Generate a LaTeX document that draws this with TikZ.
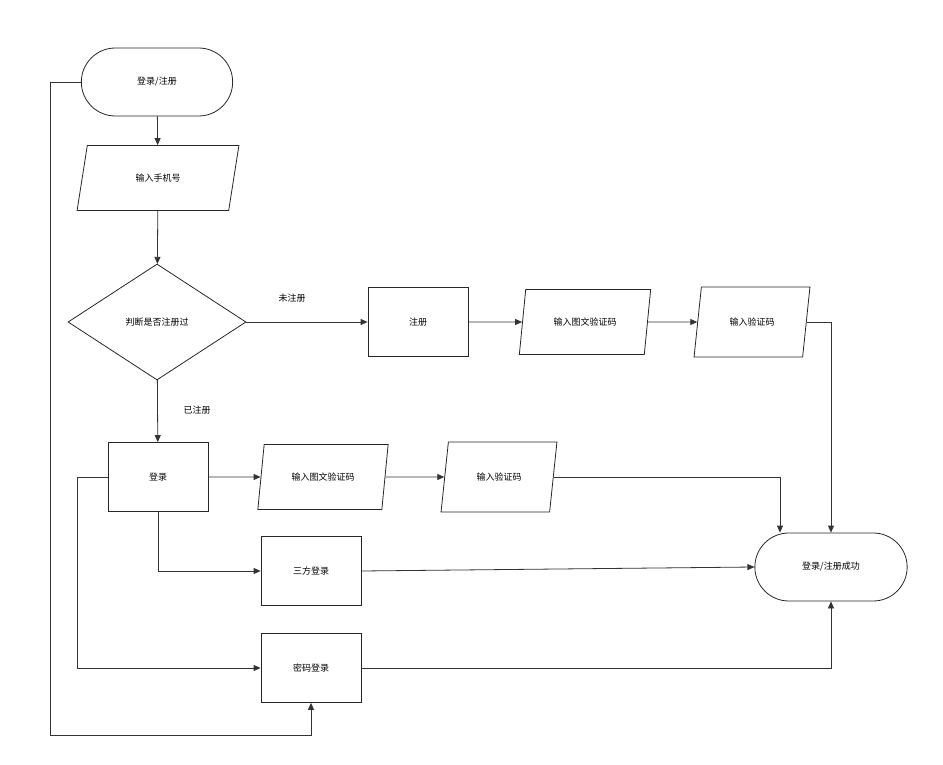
\documentclass[tikz,border=0pt]{standalone}
\usepackage{fontspec}
\setmainfont{Noto Sans CJK SC}
\usetikzlibrary{shapes.geometric,shapes.misc,arrows.meta}
\begin{document}
\begin{tikzpicture}[x=1pt,y=-1pt,
 every node/.style={font=\fontsize{9}{11}\selectfont},
 box/.style={draw=black!85,line width=0.8pt,minimum width=100pt,minimum height=69pt},
 term/.style={draw=black!85,line width=0.8pt,rounded rectangle,minimum width=158pt,minimum height=68pt},
 para/.style={draw=black!85,line width=0.8pt,trapezium,trapezium left angle=76,trapezium right angle=104,trapezium stretches=true,minimum height=65pt},
 ln/.style={draw=black!80,line width=0.8pt},
 ar/.style={ln,-{Triangle[length=7pt,width=6pt]}},
 lbl/.style={inner sep=0pt}]
\useasboundingbox (0,0) rectangle (943,765);
\node[term] (s) at (157,82) {登录/注册};
\node[para,minimum width=162pt] (p) at (158,178) {输入手机号};
\node[draw=black!85,line width=0.8pt,diamond,aspect=1.53,minimum width=178pt,minimum height=116pt,inner sep=0pt] (d) at (157,322) {判断是否注册过};
\node[box] (r) at (418,322) {注册};
\node[para,minimum width=132pt] (p1) at (585,322) {输入图文验证码};
\node[para,minimum width=116pt,minimum height=70pt] (p2) at (752,322) {输入验证码};
\node[box] (l) at (158,477) {登录};
\node[para,minimum width=131pt] (p3) at (323,477) {输入图文验证码};
\node[para,minimum width=116pt,minimum height=70pt] (p4) at (499,477) {输入验证码};
\node[box] (t) at (311,571) {三方登录};
\node[box] (m) at (311,668) {密码登录};
\node[term,minimum width=159pt] (e) at (831,567) {登录/注册成功};
\node[lbl] (n1) at (292,298) {未注册};
\node[lbl] (n2) at (197,410) {已注册};
\draw[ar] (s) -- (p);
\draw[ar] (p) -- (d);
\draw[ar] (d) -- (r);
\draw[ar] (r) -- (p1);
\draw[ar] (p1) -- (p2);
\draw[ar] (p2.east) -| (e.north);
\draw[ar] (d) -- (l);
\draw[ar] (l) -- (p3);
\draw[ar] (p3) -- (p4);
\draw[ar] (p4.east) -| ([xshift=-51pt]e.north);
\draw[ar] (l.south) |- (t.west);
\draw[ar] (t.east) -- (e.west);
\draw[ar] (l.west) -- ++(-30,0) |- (m.west);
\draw[ar] (m.east) -| (e.south);
\draw[ar] (s.west) -- ++(-31,0) -- ++(0,653) -| (m.south);
\end{tikzpicture}
\end{document}
